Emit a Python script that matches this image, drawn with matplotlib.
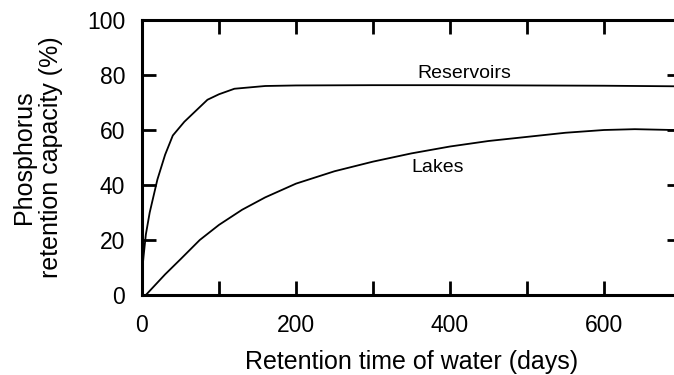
import matplotlib
matplotlib.use("Agg")
import matplotlib.pyplot as plt

plt.rcParams['font.family'] = ['Liberation Sans', 'DejaVu Sans']

# Data
res_x = [0, 2, 5, 10, 20, 30, 40, 55, 70, 85, 100, 120, 140, 160, 200, 300, 400, 500, 600, 690]
res_y = [8, 14, 22, 30, 42, 51, 58, 63, 67, 71, 73, 75, 75.5, 76, 76.2, 76.3, 76.3, 76.2, 76.1, 75.9]

lake_x = [5, 15, 30, 50, 75, 100, 130, 160, 200, 250, 300, 350, 400, 450, 500, 550, 600, 640, 690]
lake_y = [0, 3, 7.5, 13, 20, 25.5, 31, 35.5, 40.5, 45, 48.5, 51.5, 54, 56, 57.5, 59, 60, 60.3, 60]

xticks_major = [0, 200, 400, 600]
xticks_minor = [100, 300, 500]
yticks = [0, 20, 40, 60, 80, 100]

fig = plt.figure(figsize=(6.74, 3.75), dpi=100)
ax = fig.add_axes([142/674, 80/375, (681-142)/674, (295-20)/375])

ax.plot(res_x, res_y, color='black', lw=1.3)
ax.plot(lake_x, lake_y, color='black', lw=1.3)

ax.text(419, 80.5, 'Reservoirs', fontsize=14, ha='center', va='center')
ax.text(384, 46.5, 'Lakes', fontsize=14, ha='center', va='center')

ax.set_xlim(0, 700)
ax.set_ylim(0, 100)
ax.set_xticks(xticks_major)
ax.set_xticks(xticks_minor, minor=True)
ax.set_yticks(yticks)

for s in ax.spines.values():
    s.set_linewidth(2.2)

ax.tick_params(axis='both', which='both', direction='in', length=10, width=2,
               top=True, right=True, labelsize=16.5)
ax.tick_params(axis='x', which='major', pad=14)
ax.tick_params(axis='y', which='major', pad=12)

ax.set_xlabel('Retention time of water (days)', fontsize=18, labelpad=9)
ax.set_ylabel('Phosphorus\nretention capacity (%)', fontsize=18, labelpad=17)

fig.savefig('out.png', dpi=100)
